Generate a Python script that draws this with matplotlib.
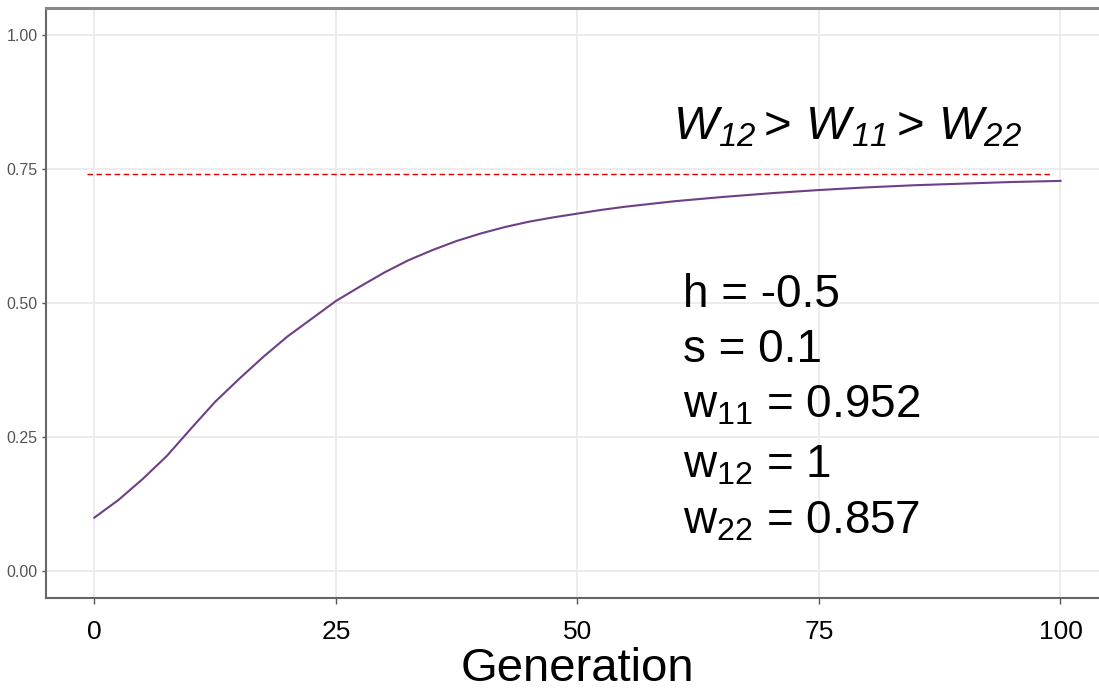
import matplotlib
matplotlib.use("Agg")
import matplotlib.pyplot as plt

# ==========================================
# Data
# ==========================================

generation = [0, 2.5, 5, 7.5, 10, 12.5, 15, 17.5, 20, 22.5, 25, 27.5,
              30, 32.5, 35, 37.5, 40, 42.5, 45, 47.5, 50, 52.5, 55,
              60, 65, 70, 75, 80, 85, 90, 95, 100]
freq = [0.100, 0.133, 0.172, 0.215, 0.266, 0.316, 0.359, 0.400, 0.438,
        0.471, 0.504, 0.531, 0.557, 0.580, 0.599, 0.616, 0.630, 0.642,
        0.652, 0.660, 0.667, 0.674, 0.680, 0.690, 0.698, 0.705, 0.711,
        0.716, 0.720, 0.723, 0.726, 0.728]

equilibrium = 0.740
equil_x = [-0.75, 99.2]

x_ticks = [0, 25, 50, 75, 100]
y_ticks = [0.00, 0.25, 0.50, 0.75, 1.00]
y_labels = ["0.00", "0.25", "0.50", "0.75", "1.00"]

title_txt = r"$\mathsf{W_{12}} >\, \mathsf{W_{11}} >\, \mathsf{W_{22}}$"

param_lines = [
    "h = -0.5",
    "s = 0.1",
    "w$_{11}$ = 0.952",
    "w$_{12}$ = 1",
    "w$_{22}$ = 0.857",
]
param_y = [0.4925, 0.390, 0.287, 0.175, 0.071]

# ==========================================
# Style
# ==========================================

plt.rcParams["font.family"] = ["Liberation Sans", "DejaVu Sans"]
plt.rcParams["mathtext.fontset"] = "custom"
plt.rcParams["mathtext.rm"] = "Liberation Sans"
plt.rcParams["mathtext.it"] = "Liberation Sans:italic"
plt.rcParams["mathtext.sf"] = "Liberation Sans:italic"

fig = plt.figure(figsize=(10.99, 6.89), dpi=100)
ax = fig.add_axes([0.0419, 0.132, 0.967, 0.856])

ax.set_xlim(-5, 105)
ax.set_ylim(-0.05, 1.05)

ax.grid(True, color="#EBEBEB", linewidth=1.3)
ax.set_axisbelow(True)

# curve + equilibrium line
ax.plot(generation, freq, color="#6E3F86", linewidth=1.5, zorder=3)
ax.plot(equil_x, [equilibrium, equilibrium], color="#E00000",
        linestyle=(0, (4, 2.5)), linewidth=1.0, zorder=3)

# axes
ax.set_xticks(x_ticks)
ax.set_xticklabels([str(t) for t in x_ticks])
ax.set_yticks(y_ticks)
ax.set_yticklabels(y_labels)

ax.tick_params(axis="x", labelsize=19, colors="#555555", labelcolor="black",
               length=4, width=1, pad=12)
ax.tick_params(axis="y", labelsize=11.5, colors="#555555", labelcolor="#555555",
               length=3, width=1, pad=3)

ax.spines["right"].set_visible(False)
ax.spines["left"].set_color("#666666")
ax.spines["left"].set_linewidth(1.5)
ax.spines["bottom"].set_color("#666666")
ax.spines["bottom"].set_linewidth(1.5)
ax.spines["top"].set_color("#888888")
ax.spines["top"].set_linewidth(2.2)

ax.set_xlabel("Generation", fontsize=34, color="black", labelpad=2)

# annotations
ax.text(59.9, 0.806, title_txt, fontsize=34, va="baseline", ha="left")

for txt, yy in zip(param_lines, param_y):
    ax.text(60.9, yy, txt, fontsize=33, va="baseline", ha="left")

fig.savefig("out.png", dpi=100)
